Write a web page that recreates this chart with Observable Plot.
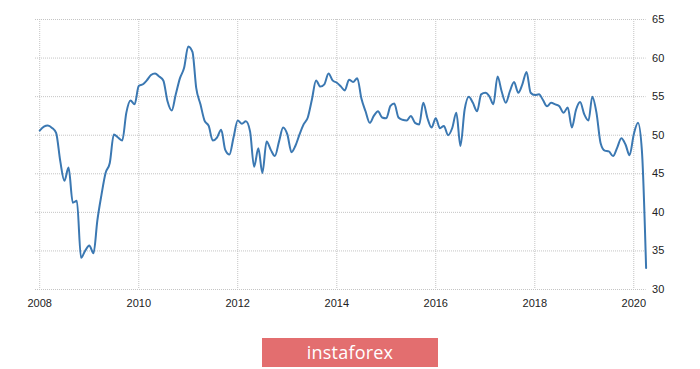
<!DOCTYPE html>
<html>
<head>
<meta charset="utf-8">
<script src="https://cdn.jsdelivr.net/npm/d3@7"></script>
<script src="https://cdn.jsdelivr.net/npm/@observablehq/plot@0.6"></script>
<style>
  html, body { margin: 0; padding: 0; background: #ffffff; }
  #chart svg { display: block; }
  #logo {
    margin-top: 18px;
    margin-left: 262px;
    width: 176px;
    height: 29px;
    background: #e36e6f;
    color: #ffffff;
    font-family: "Open Sans", "Noto Sans", sans-serif;
    font-size: 18px;
    line-height: 29px;
    text-align: center;
    letter-spacing: 0.2px;
  }
</style>
</head>
<body>
<div id="chart"></div>
<div id="logo">instaforex</div>
<script>
// Monthly index values starting January 2008
const startYear = 2008;
const startMonth = 0; // January
const pmiValues = [
  50.6, 51.1, 51.25, 50.95, 50.3, 46.6, 44.1, 45.8, 41.25, 41.5, 34.1, 35.0,
  35.7, 34.7, 38.9, 42.3, 45.1, 46.4, 50.1, 49.7, 49.3, 52.9, 54.5, 54.0,
  56.4, 56.6, 57.1, 57.8, 58.0, 57.6, 57.1, 54.4, 53.2, 55.3, 57.4, 58.7,
  61.5, 60.8, 56.1, 54.0, 51.9, 51.2, 49.3, 49.7, 50.7, 48.1, 47.5, 49.7,
  51.9, 51.5, 51.8, 50.5, 45.9, 48.3, 45.1, 49.2, 48.1, 47.3, 49.2, 51.0,
  50.1, 47.8, 48.6, 50.1, 51.4, 52.3, 54.6, 57.1, 56.3, 56.6, 58.0, 57.1,
  56.8, 56.3, 55.8, 57.2, 56.9, 57.4, 54.8, 53.1, 51.6, 52.5, 53.1, 52.3,
  52.2, 53.8, 54.1, 52.3, 52.0, 51.9, 52.5, 51.6, 51.4, 54.2, 52.2, 51.0,
  52.2, 50.9, 51.2, 50.0, 50.9, 52.9, 48.6, 53.3, 55.0, 54.2, 53.1, 55.3,
  55.5, 55.0, 54.0, 57.6, 55.7, 54.2, 55.7, 56.9, 55.5, 56.6, 58.2, 55.5,
  55.2, 55.3, 54.6, 53.75, 54.2, 54.0, 53.75, 52.9, 53.6, 51.0, 53.3, 54.3,
  52.7, 51.9, 55.0, 52.9, 49.0, 48.0, 47.9, 47.3, 48.4, 49.6, 48.8, 47.4,
  50.1, 51.6, 48.0, 32.8
];
const xTickYears = [2008, 2010, 2012, 2014, 2016, 2018, 2020];
const yTicks = [30, 35, 40, 45, 50, 55, 60, 65];

const data = pmiValues.map((v, i) => ({
  date: new Date(Date.UTC(startYear, startMonth + i, 1)),
  value: v
}));
const xTicks = xTickYears.map(y => new Date(Date.UTC(y, 0, 1)));

const chart = Plot.plot({
  width: 700,
  height: 320,
  marginLeft: 35,
  marginRight: 54.4,
  marginTop: 19,
  marginBottom: 31,
  style: {
    fontFamily: "'Liberation Sans', Arial, sans-serif",
    fontSize: "11px",
    color: "#222",
    background: "#ffffff"
  },
  x: {
    type: "utc",
    domain: [new Date(Date.UTC(2007, 11, 1)), new Date(Date.UTC(2020, 3, 1))]
  },
  y: { domain: [30, 65] },
  marks: [
    Plot.gridX(xTicks, { stroke: "#c4c4c4", strokeOpacity: 1, strokeDasharray: "1,1" }),
    Plot.gridY(yTicks, { stroke: "#c4c4c4", strokeOpacity: 1, strokeDasharray: "1,1" }),
    Plot.axisX(xTicks, { tickFormat: d3.utcFormat("%Y"), tickSize: 0, tickPadding: 10, label: null }),
    Plot.axisY(yTicks, { anchor: "right", tickSize: 0, tickPadding: 6, label: null }),
    Plot.line(data, {
      x: "date",
      y: "value",
      stroke: "#3b78b2",
      strokeWidth: 2,
      curve: "monotone-x"
    })
  ]
});
document.getElementById("chart").appendChild(chart);
</script>
</body>
</html>
